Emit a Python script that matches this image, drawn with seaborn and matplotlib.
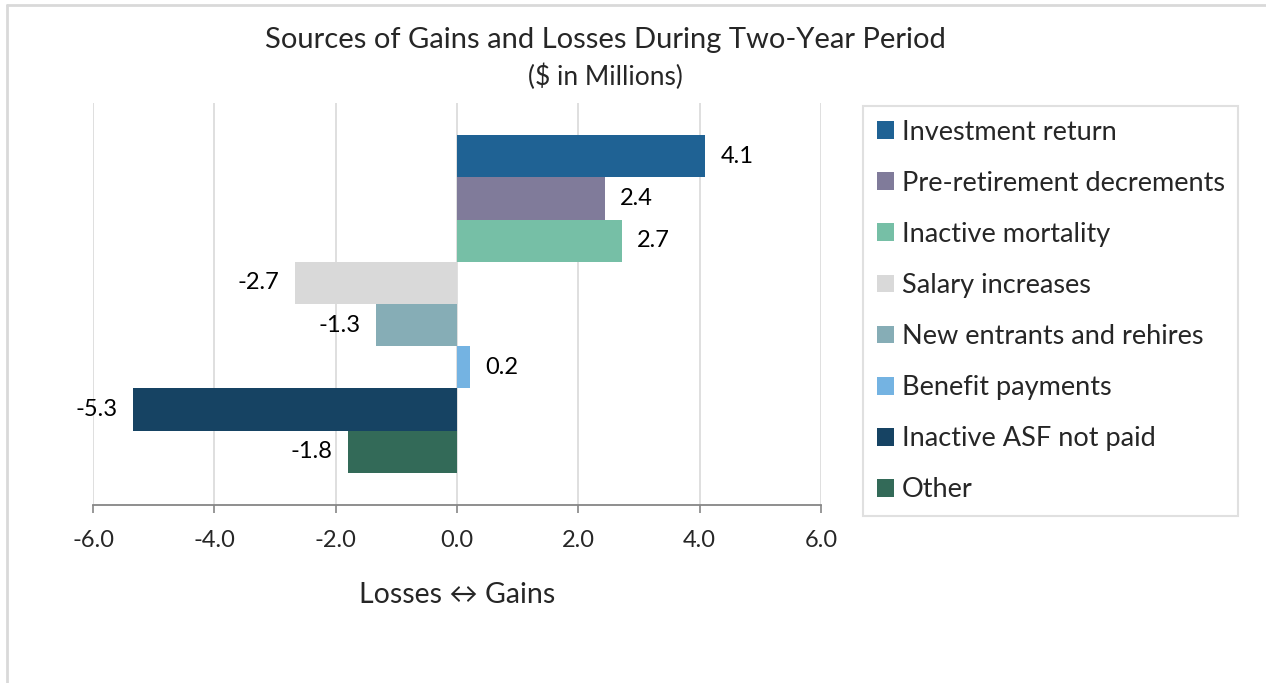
import matplotlib
matplotlib.use("Agg")
import matplotlib.pyplot as plt
import seaborn as sns
import pandas as pd
from matplotlib.lines import Line2D

categories = ["Investment return", "Pre-retirement decrements", "Inactive mortality",
              "Salary increases", "New entrants and rehires", "Benefit payments",
              "Inactive ASF not paid", "Other"]
values = [4.09, 2.44, 2.72, -2.67, -1.34, 0.21, -5.34, -1.80]
colors = ["#1F6294", "#807B9A", "#76BFA6", "#D9D9D9", "#86ADB6", "#74B3E2", "#164363", "#336A58"]
xticks = [-6.0, -4.0, -2.0, 0.0, 2.0, 4.0, 6.0]

sns.set_theme(style="white")
plt.rcParams['font.family'] = ['Lato', 'DejaVu Sans']

df = pd.DataFrame({"group": [""] * len(categories), "source": categories, "value": values})

fig = plt.figure(figsize=(12.66, 6.83), dpi=100)
ax = fig.add_axes([93/1266, 1-505/683, (821-93)/1266, (505-103)/683])

sns.barplot(data=df, x="value", y="group", hue="source", hue_order=categories,
            palette=colors, orient="h", width=0.84, saturation=1, ax=ax,
            legend=False, errorbar=None, linewidth=0)

for cont, v in zip(ax.containers, values):
    ax.bar_label(cont, labels=[f"{v:.1f}"], padding=11, fontsize=17, color="#000000")

ax.set_xlim(-6, 6)
ax.set_ylim(0.5, -0.5)
ax.set_xticks(xticks)
ax.set_xticklabels([f"{t:.1f}" for t in xticks], fontsize=17)
ax.set_yticks([])
ax.set_ylabel("")
ax.set_xlabel("Losses \u2194 Gains", fontsize=20.5, labelpad=22)
ax.grid(axis="x", color="#D9D9D9", linewidth=1.2)
ax.set_axisbelow(True)
for s in ["top", "right", "left"]:
    ax.spines[s].set_visible(False)
ax.spines["bottom"].set_color("#868686")
ax.spines["bottom"].set_linewidth(1.3)
ax.tick_params(axis="x", direction="out", length=6, width=1.2, color="#868686", pad=12, bottom=True)

fig.text(605/1266, 1-40/683, "Sources of Gains and Losses During Two-Year Period",
         ha="center", va="center", fontsize=21)
fig.text(605/1266, 1-77/683, "($ in Millions)", ha="center", va="center", fontsize=19)

handles = [plt.Rectangle((0, 0), 1, 1, facecolor=c, edgecolor="none") for c in colors]
leg = fig.legend(handles, categories, loc="upper left",
                 bbox_to_anchor=(863/1266, 1-106/683), borderaxespad=0,
                 fontsize=19.5, frameon=True, fancybox=False, labelspacing=0.965,
                 handlelength=0.63, handleheight=0.63, handletextpad=0.3,
                 borderpad=0.5)
leg.get_frame().set_edgecolor("#D9D9D9")
leg.get_frame().set_linewidth(1.5)

fig.add_artist(Line2D([7/1266, 1], [1-5/683, 1-5/683], color="#D9D9D9", linewidth=2, transform=fig.transFigure))
fig.add_artist(Line2D([7/1266, 7/1266], [0, 1-5/683], color="#D9D9D9", linewidth=2, transform=fig.transFigure))

fig.savefig("out.png", dpi=100)
